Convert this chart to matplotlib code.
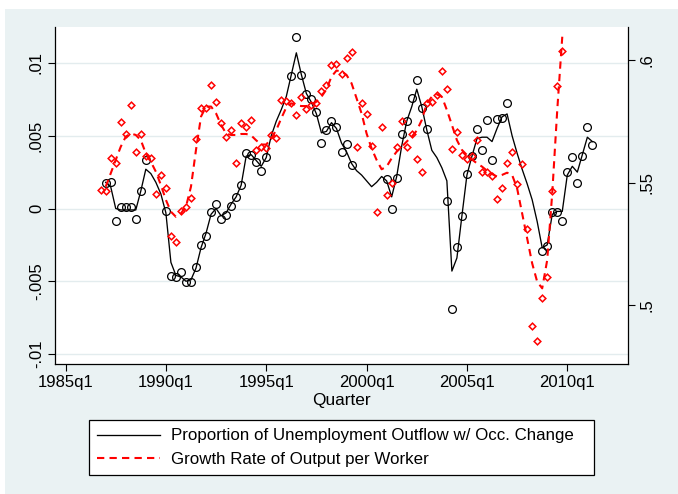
import matplotlib
matplotlib.use("Agg")
import matplotlib.pyplot as plt
import numpy as np
from matplotlib.patches import Rectangle

plt.rcParams["font.family"] = ["Liberation Sans", "DejaVu Sans"]

nan = np.nan

# quarter index, 0 = 1985q1
occ_start = 8  # 1987q1
occ_obs = [
    0.00174, 0.00183, -0.00085, 0.0001, 0.0001, 0.0001, -0.0007, 0.0012, 0.0033,
    nan, nan, nan,
    -0.0002, -0.00462, -0.00472, -0.00433, -0.00508, -0.00508, -0.00405, -0.0025,
    -0.00192, -0.00027, 0.00032, -0.00073, -0.00048, 0.00018, 0.00076, 0.00163,
    0.0038, 0.00369, 0.00323, 0.00261, 0.00353,
    nan, nan, nan, nan,
    0.00913, 0.01177, 0.0092, 0.00788, 0.0075, 0.0066, 0.00449, 0.0054, 0.006,
    0.00563, 0.0039, 0.00444, 0.003,
    nan, nan, nan, nan, nan, nan,
    0.00204, -0.00004, 0.00213, 0.0051, 0.00598, 0.00758, 0.0088, 0.0069, 0.00545,
    nan, nan, nan,
    0.00053, -0.00689, -0.00268, -0.0005, 0.00236, 0.00362, 0.00545, 0.00403,
    0.00605, 0.0033, 0.00616, 0.00621, 0.00724,
    nan, nan, nan, nan, nan, nan,
    -0.0029, -0.00256, -0.00023, -0.00023, -0.00085, 0.0025, 0.00353, 0.00177,
    0.00364, 0.00563, 0.00433,
]
occ_smooth = [
    0.0018, 0.0015, 0.0000, -0.0001, -0.0001, -0.0001, -0.0001, 0.0012, 0.0027, 0.0024,
    0.0018, 0.0010, -0.0003, -0.0037, -0.0046, -0.0047, -0.0050, -0.0049, -0.0041, -0.0027,
    -0.0017, -0.0004, 0.0000, -0.0005, -0.0003, 0.0003, 0.0008, 0.0016, 0.0036, 0.0037,
    0.0033, 0.0029, 0.0035, 0.0050, 0.0060, 0.0068, 0.0077, 0.0092, 0.0107, 0.0092,
    0.0079, 0.0073, 0.0065, 0.0052, 0.0053, 0.0059, 0.0055, 0.0045, 0.0039, 0.0031,
    0.0026, 0.0023, 0.0019, 0.0015, 0.0018, 0.0022, 0.0019, 0.0008, 0.0022, 0.0043,
    0.0060, 0.0070, 0.0082, 0.0070, 0.0054, 0.0040, 0.0035, 0.0028, 0.0019, -0.0043,
    -0.0034, -0.0005, 0.0023, 0.0036, 0.0048, 0.0049, 0.0049, 0.0046, 0.0055, 0.0063,
    0.0065, 0.0050, 0.0038, 0.0027, 0.0017, 0.0006, -0.0009, -0.0027, -0.0025, -0.0004,
    -0.0002, -0.0002, 0.0023, 0.0029, 0.0025, 0.0037, 0.0049, 0.0046,
]

prod_obs_start = 7  # 1986q4
prod_obs = [
    0.5469, 0.5465, 0.5599, 0.5578, 0.5747, 0.5697, 0.5815, 0.5626, 0.5697, 0.5608,
    0.5598, 0.5455, 0.5532, 0.5476, 0.5282, 0.5258, 0.5384, 0.5398, 0.5438, 0.5676,
    0.5804, 0.5803, 0.5898, 0.5830, 0.5742, 0.5687, 0.5714, 0.5578, 0.5743, 0.5725,
    0.5757, 0.5632, 0.5644, 0.5640, 0.5694, 0.5681, 0.5837, 0.5834, 0.5823, 0.5774,
    0.5848, 0.5799, 0.5816, 0.5823, 0.5873, 0.5898, 0.5980, 0.5984, 0.5942, 0.6007,
    0.6031, 0.5643, 0.5824, 0.5780, 0.5648, 0.5381, 0.5725, 0.5451, 0.5500, 0.5646,
    0.5750, 0.5645, 0.5698, 0.5595, 0.5544, 0.5826, 0.5830, 0.5857, 0.5956, 0.5880,
    0.5636, 0.5707, 0.5614, 0.5595, 0.5608, 0.5673, 0.5544, 0.5544, 0.5526, 0.5432,
    0.5476, 0.5581, 0.5626, 0.5493, 0.5576, 0.5312, 0.4914, 0.4852, 0.5027, 0.5113,
    0.5467, 0.5894, 0.6037,
]
prod_line_start = 8  # 1987q1
prod_line = [
    0.5483, 0.5537, 0.5592, 0.5646, 0.5687, 0.5700, 0.5694, 0.5673, 0.5619, 0.5585,
    0.5544, 0.5490, 0.5429, 0.5381, 0.5360, 0.5374, 0.5401, 0.5483, 0.5633, 0.5769,
    0.5810, 0.5810, 0.5782, 0.5735, 0.5700, 0.5694, 0.5694, 0.5698, 0.5698, 0.5692,
    0.5672, 0.5655, 0.5655, 0.5680, 0.5714, 0.5762, 0.5807, 0.5823, 0.5816, 0.5812,
    0.5812, 0.5816, 0.5830, 0.5850, 0.5880, 0.5932, 0.5957, 0.5953, 0.5939, 0.5905,
    0.5844, 0.5782, 0.5700, 0.5639, 0.5592, 0.5554, 0.5565, 0.5599, 0.5626, 0.5646,
    0.5667, 0.5687, 0.5712, 0.5755, 0.5823, 0.5850, 0.5860, 0.5850, 0.5796, 0.5735,
    0.5673, 0.5633, 0.5612, 0.5594, 0.5578, 0.5565, 0.5548, 0.5535, 0.5524, 0.5531,
    0.5540, 0.5531, 0.5476, 0.5374, 0.5272, 0.5170, 0.5095, 0.5068, 0.5184, 0.5456,
    0.5796, 0.6095,
]

x_ticks = [0, 20, 40, 60, 80, 100]
x_labels = ["1985q1", "1990q1", "1995q1", "2000q1", "2005q1", "2010q1"]
left_ticks = [-0.01, -0.005, 0, 0.005, 0.01]
left_labels = ["-.01", "-.005", "0", ".005", ".01"]
right_ticks = [0.5, 0.55, 0.6]
right_labels = [".5", ".55", ".6"]

label_occ = "Proportion of Unemployment Outflow w/ Occ. Change"
label_prod = "Growth Rate of Output per Worker"

W, H = 678, 494
fig = plt.figure(figsize=(W / 100, H / 100), dpi=100, facecolor="white")
fig.patches.append(Rectangle((5 / W, 0), 1 - 5 / W, 1 - 9 / H, transform=fig.transFigure,
                             facecolor="#EAF2F3", edgecolor="none", zorder=-10))

ax = fig.add_axes([55 / W, 1 - 364 / H, 573 / W, 337 / H])
ax.set_facecolor("white")
ax2 = ax.twinx()

x_occ = np.arange(occ_start, occ_start + len(occ_obs))
x_prod_obs = np.arange(prod_obs_start, prod_obs_start + len(prod_obs))
x_prod_line = np.arange(prod_line_start, prod_line_start + len(prod_line))

ax.plot(x_occ, occ_obs, "o", ms=5.6, mfc="none", mec="black", mew=0.9, ls="none")
l1, = ax.plot(x_occ, occ_smooth, color="black", lw=0.95, label=label_occ)

ax2.plot(x_prod_obs, prod_obs, "D", ms=3.4, mfc="none", mec="red", mew=1.1, ls="none")
l2, = ax2.plot(x_prod_line, prod_line, color="red", lw=1.5, dashes=(3.5, 2.5), label=label_prod)

ax.set_xlim(-2.1, 112.1)
ax.set_ylim(-0.010687, 0.012474)
ax2.set_ylim(0.47592, 0.61347)

ax.set_xticks(x_ticks)
ax.set_xticklabels(x_labels, fontsize=12)
ax.set_yticks(left_ticks)
ax.set_yticklabels(left_labels, rotation=90, va="center", fontsize=12)
ax2.set_yticks(right_ticks)
ax2.set_yticklabels(right_labels, rotation=90, va="center", fontsize=12)

ax.yaxis.grid(True, color="#E3ECEE", lw=1.0)
ax.set_axisbelow(True)

for a in (ax, ax2):
    a.spines["top"].set_visible(False)
    for s in ("left", "right", "bottom"):
        a.spines[s].set_linewidth(0.9)
    a.tick_params(direction="out", length=5, width=0.8, pad=3)
ax.spines["right"].set_visible(False)
ax2.spines["left"].set_visible(False)
ax2.spines["bottom"].set_visible(False)

ax.set_xlabel("Quarter", fontsize=12.4, labelpad=2)

fig.legend(handles=[l1, l2], labels=[label_occ, label_prod], loc="upper left",
           bbox_to_anchor=(89 / W, 1 - 420 / H, 505 / W, 0), mode="expand",
           borderaxespad=0, fontsize=12.2, frameon=True, fancybox=False,
           edgecolor="black", framealpha=1, handlelength=3.7, handletextpad=0.65,
           borderpad=0.5, labelspacing=0.5)
fig.legends[0].get_frame().set_linewidth(0.9)

fig.savefig("out.png", dpi=100, facecolor=fig.get_facecolor())
